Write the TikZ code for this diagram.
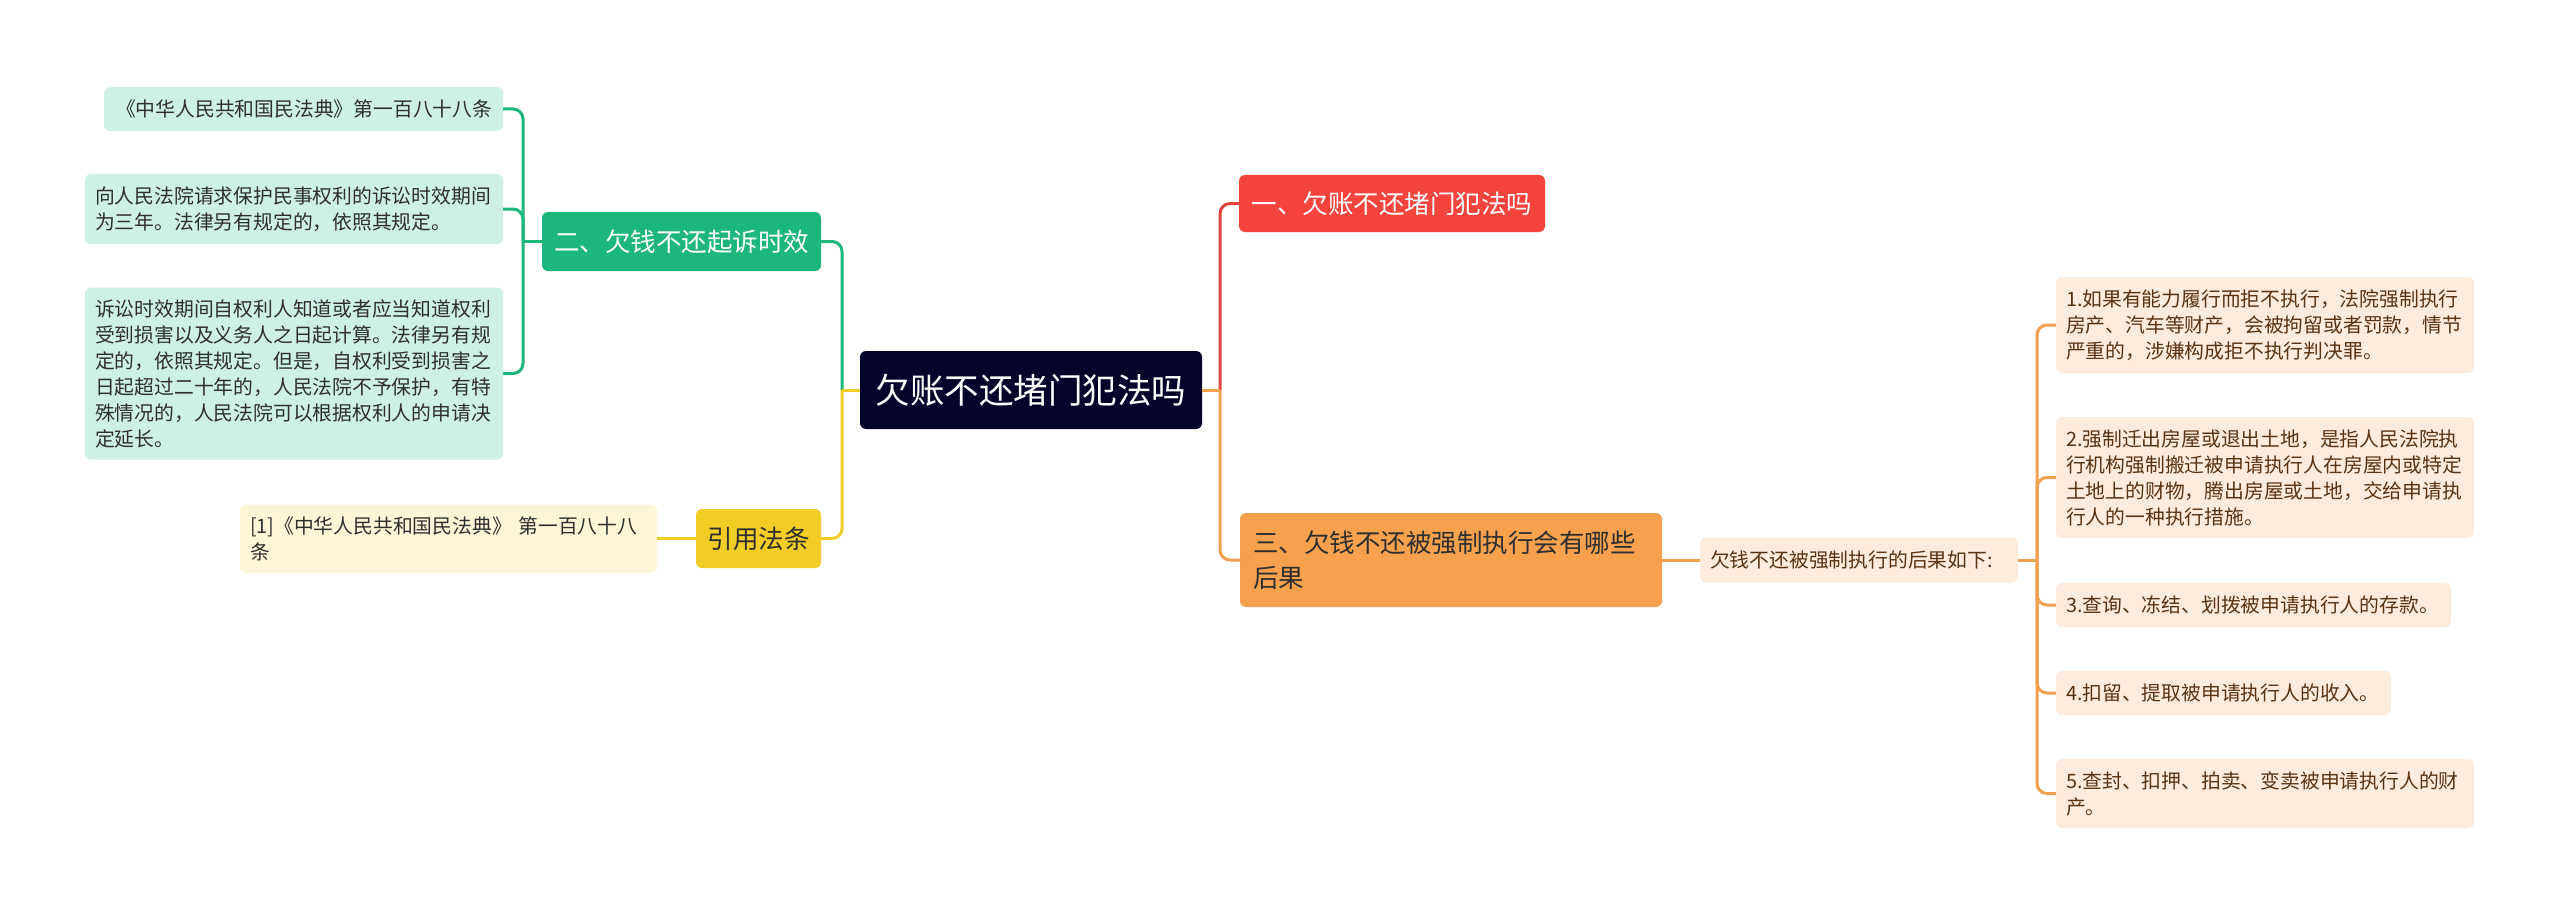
\documentclass[tikz,border=0pt]{standalone}
\usepackage{fontspec}
\setmainfont{Noto Sans CJK SC}
\definecolor{rootfill}{HTML}{04042A}
\definecolor{gnode}{HTML}{1DB67D}
\definecolor{gleaf}{HTML}{CDF1E2}
\definecolor{ynode}{HTML}{F1CD26}
\definecolor{yleaf}{HTML}{FDF6D6}
\definecolor{rnode}{HTML}{F4443B}
\definecolor{rline}{HTML}{E2463D}
\definecolor{onode}{HTML}{F5A14D}
\definecolor{oline}{HTML}{F0A04E}
\definecolor{oleaf}{HTML}{FDECDD}
\definecolor{brown}{HTML}{5A3212}
\definecolor{darktext}{HTML}{2F2F2F}
\tikzset{
  box/.style={rectangle, rounded corners=6pt, inner sep=0pt, outer sep=0pt},
  rootbox/.style={box, fill=rootfill, text=white, font=\fontsize{34.5}{40}\selectfont},
  lvbox/.style={box, font=\fontsize{25.5}{35}\selectfont},
  leafbox/.style={box, font=\fontsize{19.8}{26}\selectfont, align=left},
  gleafbox/.style={leafbox, fill=gleaf, text=darktext},
  yleafbox/.style={leafbox, fill=yleaf, text=darktext},
  oleafbox/.style={leafbox, fill=oleaf, text=brown},
  conn/.style={line width=3pt},
  gconn/.style={conn, draw=gnode},
  yconn/.style={conn, draw=ynode},
  rconn/.style={conn, draw=rline},
  oconn/.style={conn, draw=oline},
}
\begin{document}
\begin{tikzpicture}[x=1pt, y=-1pt]
\useasboundingbox[fill=white] (0,0) rectangle (2560,915);

% root
\node[rootbox, minimum width=342pt, minimum height=78pt] (root) at (1031,390) {欠账不还堵门犯法吗};

% left level 1
\node[lvbox, fill=gnode, text=white, minimum width=279pt, minimum height=59pt] (green) at (681.5,241.5) {二、欠钱不还起诉时效};
\node[lvbox, fill=ynode, text=darktext, minimum width=125pt, minimum height=59pt] (yel) at (758.5,538.5) {引用法条};

% green leaves
\node[gleafbox, minimum width=399pt, minimum height=44pt, text width=375pt, align=center] (g1) at (303.5,109) {《中华人民共和国民法典》第一百八十八条};
\node[gleafbox, minimum width=418pt, minimum height=70pt, text width=398pt] (g2) at (294,209) {向人民法院请求保护民事权利的诉讼时效期间\\为三年。法律另有规定的，依照其规定。};
\node[gleafbox, minimum width=418pt, minimum height=172pt, text width=398pt] (g3) at (294,373.5) {诉讼时效期间自权利人知道或者应当知道权利\\受到损害以及义务人之日起计算。法律另有规\\定的，依照其规定。但是，自权利受到损害之\\日起超过二十年的，人民法院不予保护，有特\\殊情况的，人民法院可以根据权利人的申请决\\定延长。};

% yellow leaf
\node[yleafbox, minimum width=417pt, minimum height=68pt, text width=397pt] (yl) at (448.5,538.5) {[1]《中华人民共和国民法典》 第一百八十八\\条};

% right level 1
\node[lvbox, fill=rnode, text=white, minimum width=306pt, minimum height=57pt] (red) at (1392,203.5) {一、欠账不还堵门犯法吗};
\node[lvbox, fill=onode, text=darktext, minimum width=422pt, minimum height=94pt, text width=396pt, align=left] (orange) at (1451,560) {三、欠钱不还被强制执行会有哪些\\后果};

% middle leaf
\node[oleafbox, minimum width=318pt, minimum height=45pt, text width=298pt] (mid) at (1859,560) {欠钱不还被强制执行的后果如下:};

% right items
\node[oleafbox, minimum width=418pt, minimum height=96pt, text width=398pt] (i1) at (2265,325) {1.如果有能力履行而拒不执行，法院强制执行\\房产、汽车等财产，会被拘留或者罚款，情节\\严重的，涉嫌构成拒不执行判决罪。};
\node[oleafbox, minimum width=418pt, minimum height=121pt, text width=398pt] (i2) at (2265,477.5) {2.强制迁出房屋或退出土地，是指人民法院执\\行机构强制搬迁被申请执行人在房屋内或特定\\土地上的财物，腾出房屋或土地，交给申请执\\行人的一种执行措施。};
\node[oleafbox, minimum width=395pt, minimum height=44pt, text width=375pt] (i3) at (2253.5,605) {3.查询、冻结、划拨被申请执行人的存款。};
\node[oleafbox, minimum width=335pt, minimum height=44pt, text width=315pt] (i4) at (2223.5,693) {4.扣留、提取被申请执行人的收入。};
\node[oleafbox, minimum width=418pt, minimum height=69pt, text width=398pt] (i5) at (2265,793.5) {5.查封、扣押、拍卖、变卖被申请执行人的财\\产。};

% trunk coordinates
\coordinate (lt) at (842,390);
\coordinate (gt) at (523,241.5);
\coordinate (rt) at (1220,390);
\coordinate (mt) at (2037,560);

% connectors left
\draw[gconn, rounded corners=10pt] (lt) |- (green.east);
\draw[yconn] (root.west) -- (lt);
\draw[yconn, rounded corners=10pt] (lt) |- (yel.east);
\draw[gconn] (green.west) -- (gt);
\draw[gconn, rounded corners=10pt] (gt) |- (g1.east);
\draw[gconn, rounded corners=10pt] (gt) |- (g2.east);
\draw[gconn, rounded corners=10pt] (gt) |- (g3.east);
\draw[yconn] (yel.west) -- (yl.east);

% connectors right
\draw[rconn, rounded corners=10pt] (rt) |- (red.west);
\draw[oconn] (root.east) -- (rt);
\draw[oconn, rounded corners=10pt] (rt) |- (orange.west);
\draw[oconn] (orange.east) -- (mid.west);
\draw[oconn] (mid.east) -- (mt);
\draw[oconn, rounded corners=10pt] (mt) |- (i1.west);
\draw[oconn, rounded corners=10pt] (mt) |- (i2.west);
\draw[oconn, rounded corners=10pt] (mt) |- (i3.west);
\draw[oconn, rounded corners=10pt] (mt) |- (i4.west);
\draw[oconn, rounded corners=10pt] (mt) |- (i5.west);
\end{tikzpicture}
\end{document}
